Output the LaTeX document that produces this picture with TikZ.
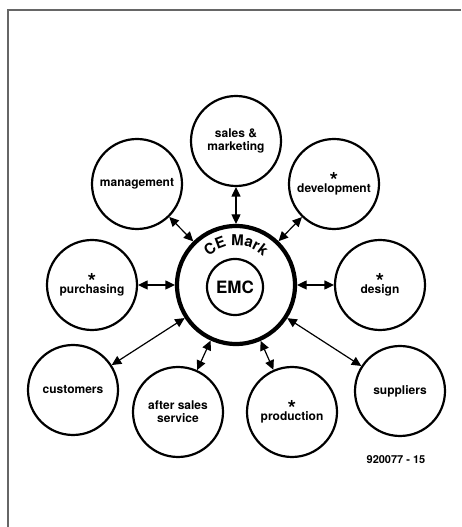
\documentclass[tikz,border=0pt]{standalone}
\usepackage{fontspec}
\setmainfont{TeX Gyre Heros}
\usetikzlibrary{arrows.meta,decorations.text}
\tikzset{
  sat/.style={circle, draw, line width=2.2pt, minimum size=90pt, inner sep=0pt, align=center,
    font=\bfseries\fontsize{12}{13}\selectfont},
  ring/.style={circle, draw, line width=4.2pt, minimum size=118pt, inner sep=0pt},
  inner/.style={circle, draw, line width=2.2pt, minimum size=56pt, inner sep=0pt,
    font=\bfseries\fontsize{17}{17}\selectfont},
  link/.style={{Triangle[length=9.5pt,width=9pt]}-{Triangle[length=9.5pt,width=9pt]}, line width=1.2pt},
  frame/.style={draw=black!60, line width=2pt},
  code/.style={font=\bfseries\fontsize{11}{11}\selectfont}
}
\newcommand{\starmark}{{\fontsize{22}{22}\selectfont*}\\[-9pt]}
\begin{document}
\begin{tikzpicture}[x=1pt,y=1pt]
\useasboundingbox (0,0) rectangle (461,527);
\draw[frame] (8,0) -- (8,517) -- (461,517);

\node[ring] (C) at (236,242) {};
\node[inner] (E) at (235,240) {EMC};
\path[decorate, decoration={text along path, text align=center,
   text={|\bfseries\fontsize{15}{15}\selectfont|CE Mark}}]
   (236,242) ++(150:39.5) arc[start angle=150, end angle=30, radius=39.5];

\node[sat] (sm) at (236,386) {sales \&\\marketing};
\node[sat] (dev) at (334,343) {\starmark development};
\node[sat] (man) at (137,343) {management};
\node[sat] (pur) at (92,242) {\starmark purchasing};
\node[sat] (des) at (380,242) {\starmark design};
\node[sat] (cus) at (73,137) {customers};
\node[sat] (aft) at (178,115) {after sales\\service};
\node[sat] (pro) at (292,115) {\starmark production};
\node[sat] (sup) at (400,136) {suppliers};

\foreach \n in {sm,dev,man,pur,des,cus,aft,pro,sup}
  \draw[link] (\n) -- (C);

\node[code] (lbl) at (396,67) {920077 - 15};
\end{tikzpicture}
\end{document}
